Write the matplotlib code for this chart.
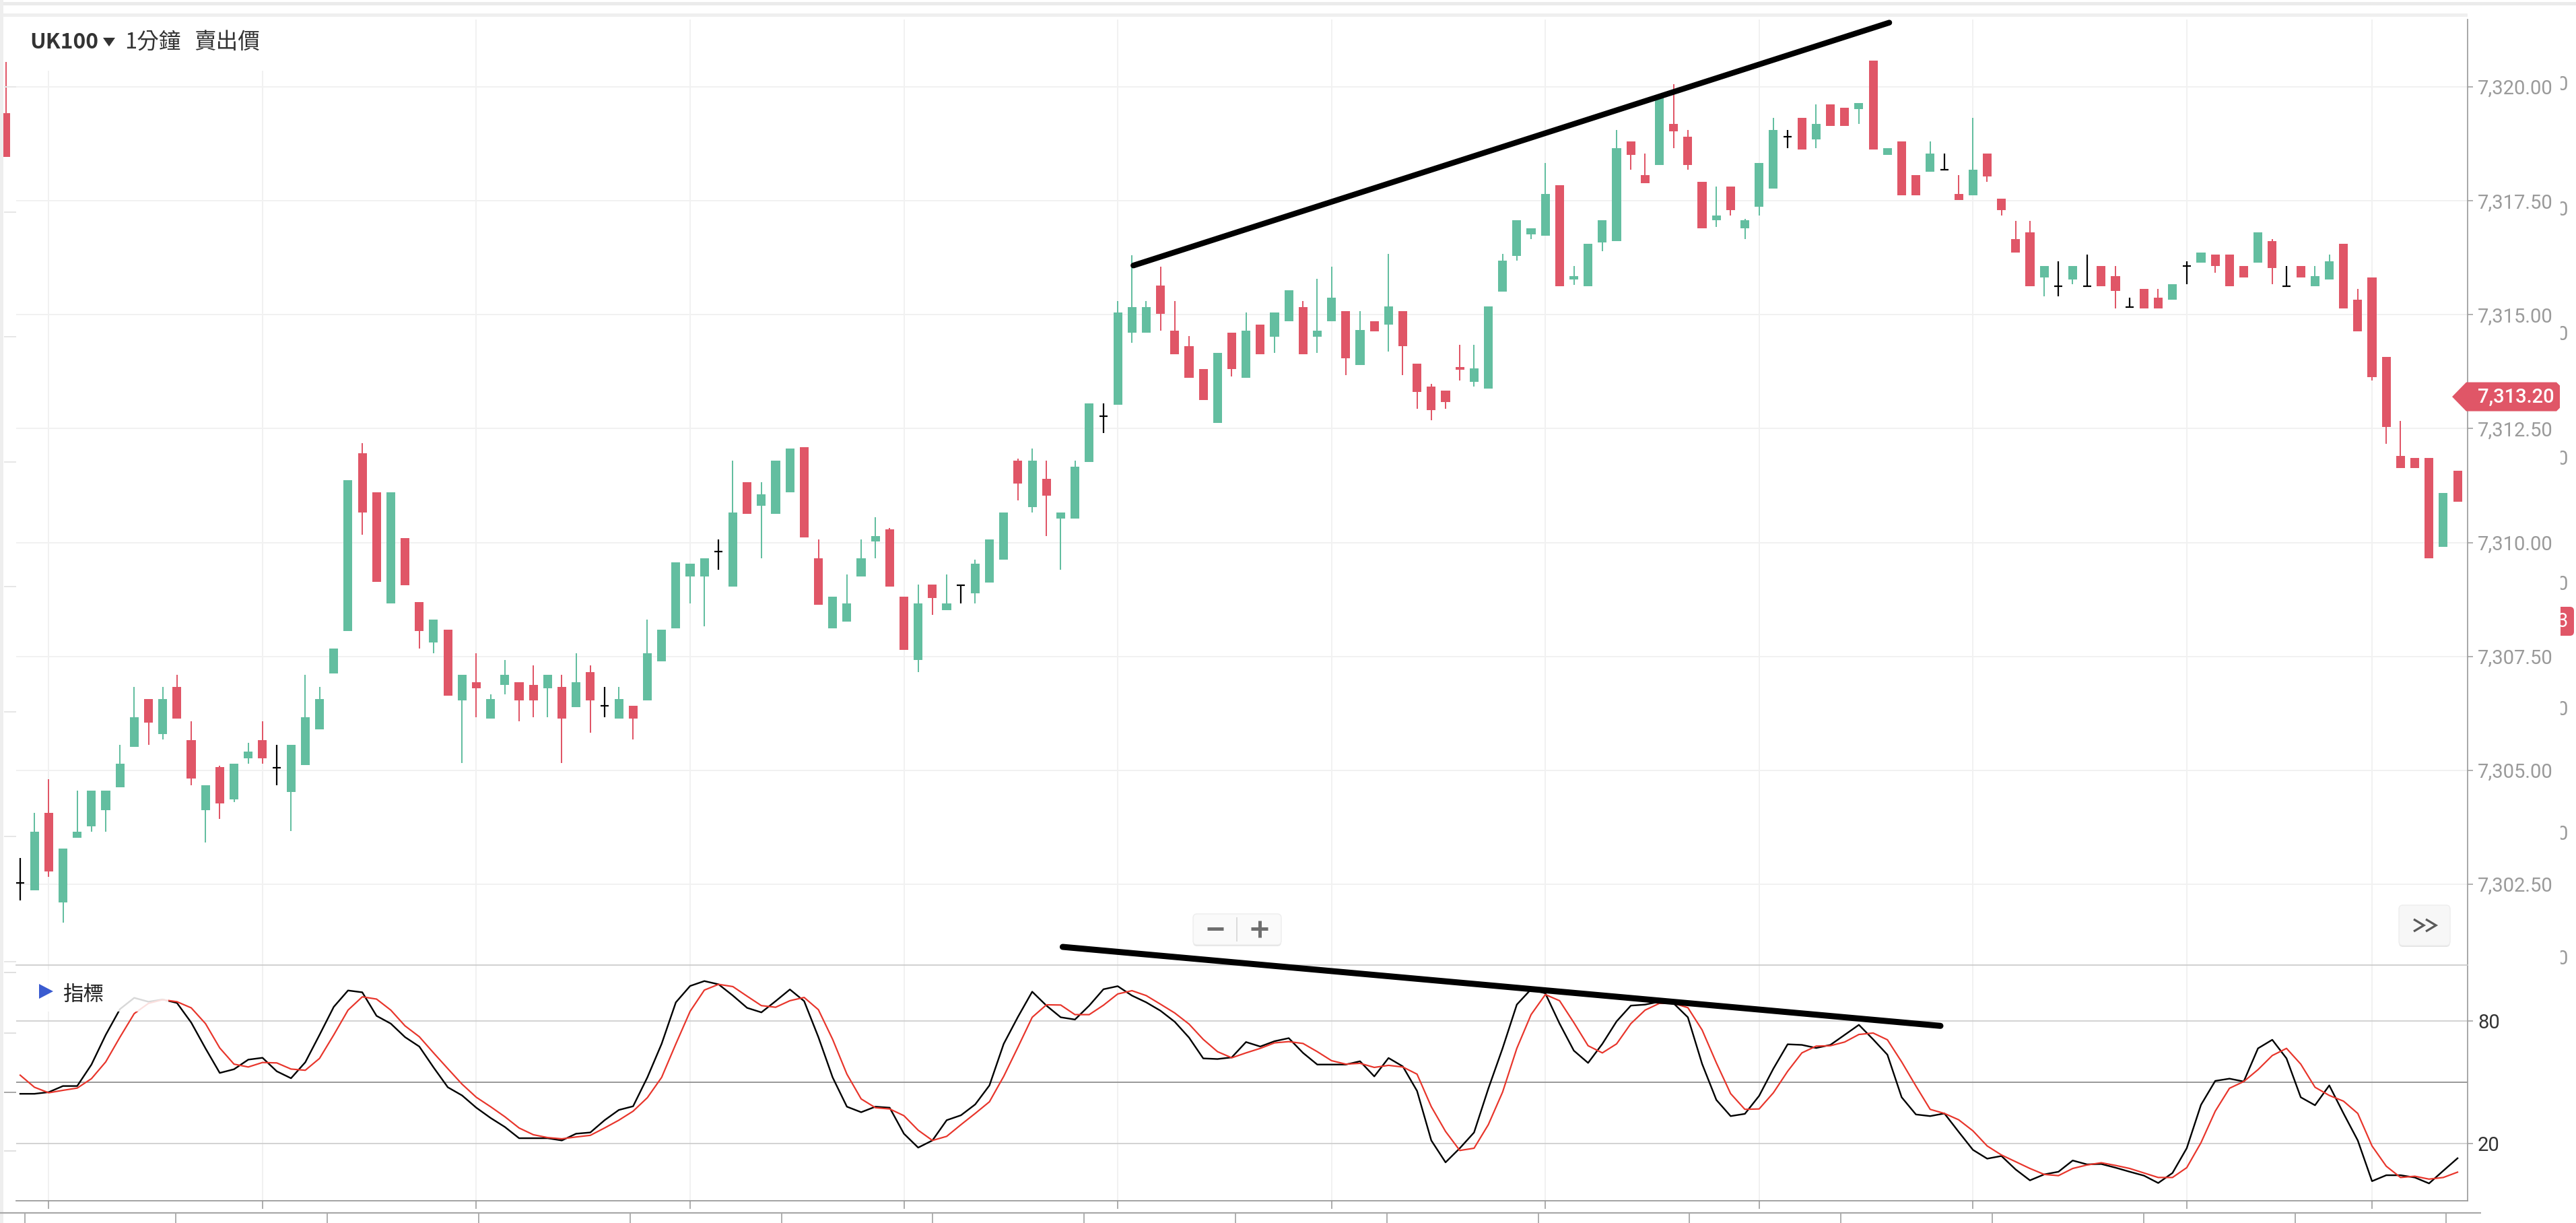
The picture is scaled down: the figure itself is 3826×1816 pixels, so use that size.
import numpy as np
import matplotlib
matplotlib.use("Agg")
import matplotlib.pyplot as plt
from matplotlib.patches import Polygon, Rectangle, FancyBboxPatch

# ---------------- data ----------------
opens = [7319.43, 7302.53, 7302.37, 7304.07, 7302.10, 7303.52, 7303.77, 7304.12, 7304.63, 7305.52,
         7306.57, 7305.79, 7306.83, 7305.67, 7304.12, 7305.07, 7304.37, 7305.26, 7305.67, 7305.06,
         7304.53, 7305.11, 7305.90, 7307.12, 7308.06, 7311.96, 7311.10, 7308.66, 7310.10, 7308.69,
         7307.80, 7308.09, 7306.54, 7306.94, 7306.13, 7306.87, 7306.94, 7306.87, 7306.80, 7306.83,
         7306.39, 7307.16, 7306.41, 7306.13, 7306.42, 7306.54, 7307.39, 7308.11, 7309.26, 7309.26,
         7309.80, 7309.04, 7311.33, 7310.81, 7310.63, 7311.10, 7312.10, 7309.66, 7308.11, 7308.26,
         7309.26, 7310.03, 7310.29, 7308.81, 7307.42, 7309.08, 7308.52, 7309.07, 7308.89, 7309.12,
         7309.63, 7311.80, 7310.78, 7311.40, 7310.52, 7310.52, 7311.77, 7312.78, 7313.02, 7314.61,
         7314.61, 7315.64, 7314.65, 7314.31, 7313.80, 7312.62, 7314.61, 7313.61, 7314.79, 7314.51,
         7314.86, 7315.16, 7314.51, 7314.86, 7315.08, 7313.90, 7314.85, 7314.78, 7315.08, 7313.93,
         7313.42, 7313.34, 7313.85, 7313.52, 7313.38, 7315.51, 7316.29, 7316.77, 7316.73, 7317.84,
         7315.77, 7315.63, 7316.58, 7316.62, 7318.81, 7318.06, 7318.29, 7319.18, 7318.91, 7317.92,
         7317.07, 7317.81, 7316.89, 7317.37, 7317.77, 7318.91, 7319.32, 7318.84, 7319.62, 7319.54,
         7319.51, 7320.58, 7318.51, 7318.81, 7318.06, 7318.14, 7318.18, 7317.65, 7317.62, 7318.54,
         7317.55, 7316.66, 7316.81, 7315.81, 7315.63, 7315.77, 7315.63, 7316.07, 7315.85, 7315.16,
         7315.56, 7315.37, 7315.33, 7316.07, 7316.14, 7316.32, 7316.32, 7316.07, 7316.14, 7316.62,
         7315.63, 7316.07, 7315.63, 7315.77, 7316.55, 7315.33, 7315.81, 7314.07, 7311.90, 7311.86,
         7311.86, 7309.91, 7311.57]
highs = [7320.55, 7303.07, 7304.07, 7304.81, 7303.29, 7304.56, 7304.56, 7304.56, 7305.56, 7306.83,
         7306.57, 7306.83, 7307.09, 7306.08, 7304.67, 7305.10, 7305.15, 7305.60, 7306.08, 7305.56,
         7305.56, 7307.09, 7306.83, 7307.68, 7311.37, 7312.18, 7311.10, 7311.10, 7310.10, 7308.69,
         7308.31, 7308.09, 7307.09, 7307.57, 7306.67, 7307.42, 7306.94, 7307.31, 7307.09, 7307.09,
         7307.57, 7307.31, 7306.83, 7306.83, 7306.42, 7308.31, 7308.09, 7309.56, 7309.54, 7309.66,
         7310.07, 7311.80, 7311.33, 7311.33, 7311.80, 7312.06, 7312.10, 7310.07, 7308.81, 7309.30,
         7310.07, 7310.55, 7310.32, 7308.81, 7309.08, 7309.08, 7309.30, 7309.07, 7309.62, 7310.07,
         7310.66, 7311.84, 7312.06, 7311.80, 7310.66, 7311.80, 7313.06, 7313.06, 7315.30, 7316.30,
         7315.30, 7316.05, 7315.30, 7314.53, 7313.80, 7314.16, 7314.61, 7315.05, 7314.79, 7315.05,
         7315.53, 7315.30, 7315.79, 7316.05, 7315.08, 7315.08, 7314.85, 7316.33, 7315.08, 7313.93,
         7313.48, 7313.34, 7314.34, 7314.34, 7315.18, 7316.33, 7317.07, 7316.89, 7318.33, 7317.84,
         7316.07, 7316.55, 7317.07, 7319.06, 7318.81, 7318.54, 7319.77, 7320.06, 7319.06, 7317.92,
         7317.81, 7317.81, 7317.10, 7318.33, 7319.32, 7319.06, 7319.32, 7319.62, 7319.62, 7319.54,
         7319.65, 7320.58, 7318.66, 7318.81, 7318.06, 7318.81, 7318.54, 7318.06, 7319.32, 7318.54,
         7317.55, 7317.06, 7317.06, 7316.07, 7316.17, 7316.07, 7316.32, 7316.07, 7316.07, 7315.37,
         7315.56, 7315.56, 7315.67, 7316.17, 7316.36, 7316.32, 7316.32, 7316.07, 7316.81, 7316.66,
         7316.07, 7316.07, 7316.07, 7316.32, 7316.55, 7315.56, 7315.81, 7314.07, 7312.67, 7311.86,
         7311.86, 7311.09, 7311.57]
lows = [7318.47, 7302.14, 7302.37, 7302.67, 7301.66, 7303.52, 7303.66, 7303.66, 7304.63, 7305.52,
        7305.56, 7305.68, 7306.13, 7304.67, 7303.41, 7303.93, 7304.30, 7305.15, 7305.15, 7304.67,
        7303.67, 7305.11, 7305.90, 7307.12, 7308.06, 7310.17, 7309.14, 7308.66, 7309.07, 7307.68,
        7307.57, 7306.64, 7305.16, 7306.16, 7306.13, 7306.67, 7306.08, 7306.16, 7306.16, 7305.16,
        7306.39, 7305.82, 7306.16, 7306.13, 7305.68, 7306.54, 7307.39, 7308.11, 7308.67, 7308.16,
        7309.41, 7309.04, 7310.63, 7309.66, 7310.63, 7311.10, 7310.11, 7308.64, 7308.11, 7308.26,
        7309.26, 7309.66, 7309.04, 7307.64, 7307.16, 7308.41, 7308.52, 7308.67, 7308.67, 7309.12,
        7309.63, 7310.93, 7310.66, 7310.14, 7309.41, 7310.52, 7311.77, 7312.40, 7313.02, 7314.38,
        7314.61, 7314.65, 7314.13, 7313.61, 7313.13, 7312.62, 7313.65, 7313.61, 7314.13, 7314.16,
        7314.86, 7314.13, 7314.16, 7314.86, 7313.67, 7313.90, 7314.64, 7314.19, 7313.67, 7312.93,
        7312.68, 7312.93, 7313.56, 7313.42, 7313.38, 7315.51, 7316.18, 7316.66, 7316.73, 7315.63,
        7315.66, 7315.63, 7316.40, 7316.62, 7318.18, 7317.88, 7318.29, 7318.66, 7318.18, 7316.89,
        7316.92, 7317.18, 7316.66, 7317.18, 7317.77, 7318.66, 7318.62, 7318.66, 7319.14, 7319.14,
        7319.18, 7318.62, 7318.51, 7317.62, 7317.62, 7318.14, 7318.18, 7317.51, 7317.62, 7317.92,
        7317.18, 7316.37, 7315.63, 7315.40, 7315.40, 7315.67, 7315.63, 7315.63, 7315.14, 7315.16,
        7315.14, 7315.14, 7315.33, 7315.67, 7316.14, 7315.92, 7315.63, 7315.81, 7316.14, 7315.67,
        7315.63, 7315.81, 7315.63, 7315.77, 7315.14, 7314.64, 7313.56, 7312.16, 7311.64, 7311.64,
        7309.65, 7309.91, 7310.90]
closes = [7318.47, 7302.53, 7303.66, 7302.78, 7303.29, 7303.66, 7304.56, 7304.56, 7305.15, 7306.16,
          7306.05, 7306.57, 7306.13, 7304.82, 7304.67, 7304.27, 7305.15, 7305.41, 7305.26, 7305.06,
          7305.56, 7306.16, 7306.57, 7307.68, 7311.37, 7310.66, 7309.14, 7311.10, 7309.07, 7308.06,
          7308.31, 7306.64, 7307.09, 7306.80, 7306.57, 7307.09, 7306.54, 7306.54, 7307.09, 7306.13,
          7306.94, 7306.54, 7306.41, 7306.57, 7306.13, 7307.57, 7308.09, 7309.56, 7309.54, 7309.66,
          7309.80, 7310.66, 7310.63, 7311.06, 7311.80, 7312.06, 7310.11, 7308.64, 7308.81, 7308.67,
          7309.66, 7310.14, 7309.04, 7307.64, 7308.67, 7308.78, 7308.67, 7309.07, 7309.54, 7310.07,
          7310.66, 7311.30, 7311.80, 7311.03, 7310.66, 7311.66, 7313.06, 7312.78, 7315.05, 7315.16,
          7315.16, 7315.02, 7314.13, 7313.61, 7313.13, 7314.16, 7313.80, 7314.65, 7314.13, 7315.05,
          7315.53, 7314.13, 7314.65, 7315.38, 7314.04, 7314.67, 7314.64, 7315.18, 7314.31, 7313.30,
          7312.90, 7313.08, 7313.79, 7313.82, 7315.18, 7316.18, 7317.07, 7316.89, 7317.65, 7315.63,
          7315.84, 7316.55, 7317.07, 7318.66, 7318.51, 7317.88, 7319.77, 7319.03, 7318.29, 7316.89,
          7317.18, 7317.29, 7317.07, 7318.33, 7319.06, 7318.91, 7318.62, 7319.18, 7319.14, 7319.14,
          7319.65, 7318.62, 7318.66, 7317.62, 7317.62, 7318.54, 7318.18, 7317.51, 7318.18, 7318.03,
          7317.29, 7316.37, 7315.63, 7316.07, 7315.63, 7316.07, 7315.63, 7315.63, 7315.52, 7315.16,
          7315.14, 7315.14, 7315.67, 7316.07, 7316.36, 7316.07, 7315.63, 7315.81, 7316.81, 7316.03,
          7315.63, 7315.81, 7315.85, 7316.17, 7315.14, 7314.64, 7313.63, 7312.53, 7311.64, 7311.64,
          7309.65, 7311.09, 7310.90]

# stochastic oscillator %K (black) and %D (red)
stoch_k = [None,
           44.4, 44.4, 45.2, 48.2, 48.2, 58.7, 73.2, 85.8, 91.3, 89.4,
           90.5, 88.8, 79.2, 66.6, 54.6, 56.4, 61.1, 62.0, 55.4, 52.0,
           59.8, 73.2, 86.9, 94.9, 94.0, 82.5, 78.7, 72.1, 67.5, 57.3,
           47.6, 43.6, 37.6, 32.6, 28.2, 22.7, 22.7, 22.7, 21.6, 24.9,
           25.5, 31.5, 36.5, 38.3, 52.4, 68.8, 89.1, 97.1, 99.5, 97.9,
           92.4, 86.4, 84.2, 89.7, 95.4, 89.7, 72.1, 52.4, 38.1, 35.4,
           38.1, 37.6, 24.9, 18.1, 21.6, 31.5, 33.9, 39.2, 48.5, 68.8,
           82.0, 94.3, 87.5, 81.8, 80.7, 87.5, 95.5, 97.0, 92.4, 89.1,
           85.0, 79.6, 71.9, 61.7, 61.4, 62.2, 69.7, 67.5, 70.1, 71.6,
           64.4, 58.7, 58.7, 58.7, 60.3, 52.9, 61.9, 57.8, 45.8, 21.6,
           10.9, 17.8, 25.5, 46.9, 66.6, 88.0, 95.5, 93.5, 78.7, 65.5,
           59.5, 68.8, 79.8, 87.5, 88.0, 89.4, 88.6, 81.8, 59.0, 41.4,
           33.5, 34.6, 43.4, 56.7, 68.6, 68.3, 66.8, 68.3, 73.2, 78.1,
           71.0, 63.5, 42.7, 34.3, 33.5, 34.8, 25.8, 17.0, 12.7, 14.0,
           7.4, 2.1, 5.0, 6.3, 11.8, 9.9, 10.1, 8.3, 6.3, 4.4,
           0.8, 5.7, 17.8, 39.0, 50.7, 51.8, 50.4, 66.6, 70.8, 61.7,
           42.7, 38.8, 48.5, 34.8, 21.6, 1.7, 4.6, 4.6, 3.5, 0.6,
           6.8, 12.9]
stoch_d = [None,
           53.5, 47.6, 44.9, 46.1, 47.2, 51.8, 60.0, 72.1, 83.6, 88.6,
           90.4, 89.4, 86.4, 78.7, 66.8, 58.9, 57.5, 59.7, 59.5, 56.5,
           55.9, 61.7, 73.2, 85.3, 91.8, 90.7, 85.3, 77.6, 72.3, 64.4,
           56.7, 49.1, 42.7, 38.1, 33.2, 27.7, 24.4, 23.0, 22.4, 23.3,
           24.1, 27.7, 31.5, 35.9, 42.5, 52.4, 68.8, 84.7, 95.1, 97.9,
           96.8, 92.1, 87.5, 86.7, 89.9, 91.5, 85.5, 71.0, 54.0, 41.9,
           37.6, 37.0, 33.7, 26.6, 21.6, 23.6, 29.3, 34.8, 40.5, 52.9,
           67.2, 81.8, 87.9, 87.8, 83.1, 83.1, 87.7, 93.2, 94.8, 92.4,
           88.2, 83.9, 78.5, 71.0, 65.0, 62.0, 64.4, 66.6, 69.3, 69.9,
           69.0, 65.0, 60.6, 58.9, 59.3, 57.3, 58.3, 57.5, 54.0, 38.1,
           26.0, 16.7, 17.8, 29.3, 45.2, 66.6, 83.1, 92.9, 89.9, 79.2,
           67.9, 64.4, 68.8, 78.7, 85.3, 88.6, 88.6, 86.5, 75.6, 59.5,
           44.5, 36.8, 37.0, 44.9, 55.4, 64.4, 67.7, 67.9, 69.7, 73.4,
           74.1, 70.8, 60.0, 48.2, 36.8, 34.8, 31.7, 26.3, 18.9, 14.5,
           11.2, 7.9, 5.0, 4.4, 7.9, 9.6, 10.7, 9.4, 7.9, 5.7,
           3.5, 3.5, 8.3, 20.5, 35.9, 47.1, 50.4, 56.2, 63.1, 66.6,
           58.9, 47.6, 43.6, 40.8, 34.8, 18.9, 9.0, 3.5, 4.1, 2.7,
           3.5, 6.1]

price_ticks = [7302.5, 7305.0, 7307.5, 7310.0, 7312.5, 7315.0, 7317.5, 7320.0]
osc_ticks = [20, 80]
osc_mid = 50
grid_idx = [3, 18, 33, 48, 63, 78, 93, 108, 123, 138, 153, 166]
last_price = 7313.20
trend_price_x = [79.1, 132.13]
trend_price_y = [7316.08, 7321.41]
trend_osc_x = [74.14, 135.72]
trend_osc_y = [116.2, 77.6]

# ---------------- layout ----------------
W, H, DPI = 3826, 1816, 100
X0, X1 = 24, 3665
Y_TOP, Y_MID, Y_BOT = 29, 1433, 1783
STEP, C0 = 21.17, 8.83
GREEN = "#63bea0"
RED = "#e05667"
DRED = "#e8352b"
CJK = ["Noto Sans CJK TC", "DejaVu Sans"]
NUM = ["Roboto", "DejaVu Sans"]
PT = 0.72  # points per pixel at 100 dpi

fig = plt.figure(figsize=(W / DPI, H / DPI), dpi=DPI)
fig.patch.set_facecolor("white")


def box(x0, y0, x1, y1):
    return [x0 / W, 1 - y1 / H, (x1 - x0) / W, (y1 - y0) / H]


ax = fig.add_axes(box(X0, Y_TOP, X1, Y_MID))
axi = fig.add_axes(box(X0, Y_MID, X1, Y_BOT))
xlim = ((X0 - C0) / STEP, (X1 - C0) / STEP)
ax.set_xlim(*xlim)
axi.set_xlim(*xlim)
ax.set_ylim(7320 - (Y_MID - 129) / 67.66, 7320 + (129 - Y_TOP) / 67.66)
axi.set_ylim(80 - (Y_BOT - 1516) / 3.038, 80 + (1516 - Y_MID) / 3.038)

# grids
for g in grid_idx:
    ax.axvline(g, color="#f1f1f1", lw=2 * PT, zorder=0)
    axi.axvline(g, color="#f1f1f1", lw=2 * PT, zorder=0)
for p in price_ticks:
    ax.axhline(p, color="#f1f1f1", lw=2 * PT, zorder=0)
for lv in osc_ticks:
    axi.axhline(lv, color="#cfcfcf", lw=1.8 * PT, zorder=1)
axi.axhline(osc_mid, color="#9a9a9a", lw=2 * PT, zorder=1)

# candles
o = np.array(opens); h = np.array(highs); l = np.array(lows); c = np.array(closes)
x = np.arange(len(o))
up = c > o
dn = c < o
dj = c == o
for mask, col in ((up, GREEN), (dn, RED)):
    ax.vlines(x[mask], l[mask], h[mask], color=col, lw=2 * PT, zorder=3, clip_on=False)
    ax.bar(x[mask], np.abs(c[mask] - o[mask]), bottom=np.minimum(o[mask], c[mask]),
           width=0.62, color=col, linewidth=0, zorder=4, clip_on=False)
ax.vlines(x[dj], l[dj], h[dj], color="black", lw=2.2 * PT, zorder=4)
ax.hlines(o[dj], x[dj] - 0.29, x[dj] + 0.29, color="black", lw=2.2 * PT, zorder=4)

ax.plot(trend_price_x, trend_price_y, color="black", lw=8.5 * PT,
        solid_capstyle="round", zorder=6, clip_on=False)

# oscillator
k = np.array([np.nan if v is None else v for v in stoch_k], dtype=float)
d = np.array([np.nan if v is None else v for v in stoch_d], dtype=float)
axi.plot(x, k, color="black", lw=2.4 * PT, zorder=3)
axi.plot(x, d, color=DRED, lw=2.2 * PT, zorder=4)
axi.plot(trend_osc_x, trend_osc_y, color="black", lw=9 * PT,
         solid_capstyle="round", zorder=6, clip_on=False)

# axes styling
for a in (ax, axi):
    for s in ("left", "top", "bottom"):
        a.spines[s].set_visible(False)
    a.spines["right"].set_color("#a0a0a0")
    a.spines["right"].set_linewidth(1.8 * PT)
    a.yaxis.tick_right()
    a.tick_params(axis="y", right=True, left=False, labelright=True, labelleft=False,
                  length=8 * PT, width=1.6 * PT, color="#a0a0a0", pad=5)
axi.spines["top"].set_visible(True)
axi.spines["top"].set_color("#cccccc")
axi.spines["top"].set_linewidth(1.8 * PT)
axi.spines["bottom"].set_visible(True)
axi.spines["bottom"].set_color("#9a9a9a")
axi.spines["bottom"].set_linewidth(1.8 * PT)

ax.set_xticks([])
ax.set_yticks(price_ticks)
ax.set_yticklabels([f"{p:,.2f}" for p in price_ticks], fontsize=21, color="#9a9a9a", family=NUM)
axi.set_yticks(osc_ticks)
axi.set_yticklabels([str(v) for v in osc_ticks], fontsize=21, color="#333333", family=NUM)
axi.set_xticks(grid_idx)
axi.set_xticklabels([])
axi.tick_params(axis="x", bottom=True, direction="out", length=12 * PT, width=1.6 * PT,
                color="#9a9a9a")

# ---------------- overlay decorations in pixel space ----------------
ov = fig.add_axes([0, 0, 1, 1])
ov.set_xlim(0, W)
ov.set_ylim(H, 0)
ov.axis("off")


def seg(xs, ys, col, px, cap="butt"):
    ov.plot(xs, ys, color=col, lw=px * PT, solid_capstyle=cap, solid_joinstyle="miter")


# header strips and left border
ov.add_patch(Rectangle((0, 3), W, 5, color="#ebebeb", lw=0))
ov.add_patch(Rectangle((0, 20), X1, 5, color="#efefef", lw=0))
ov.add_patch(Rectangle((0, 0), 5, H, color="#eeeeee", lw=0))

# left ticks of hidden axes
hidden_y = [129 + 185.5 * i for i in range(8)]
for yy in hidden_y:
    seg([6, X0], [yy, yy], "#e6e6e6", 2)
for yy, col in zip([1444, 1534, 1622, 1709], ["#e0e0e0", "#e0e0e0", "#a8a8a8", "#e0e0e0"]):
    seg([6, X0], [yy, yy], col, 2)

# secondary time axis at the bottom
seg([0, 3685], [1801, 1801], "#a8a8a8", 2.2)
for i in range(17):
    xx = 36.5 + 224.8 * i
    seg([xx, xx], [1802, 1816], "#a8a8a8", 1.8)

# title box
ov.add_patch(Rectangle((X0, Y_TOP), 376, 76, color="white", lw=0))
ov.text(44, 63, "UK100", fontsize=23, fontweight="bold", color="#333333", family=CJK,
        va="center", ha="left")
ov.add_patch(Polygon([(153, 56), (171, 56), (162, 69)], closed=True, fc="#333333", ec="none"))
ov.text(185, 63, "1分鐘", fontsize=23.5, color="#333333", family=CJK, va="center", ha="left")
ov.text(288, 63, "賣出價", fontsize=23.5, color="#333333", family=CJK, va="center", ha="left")

# indicator label
ov.add_patch(Rectangle((X0, 1440), 226, 62, color="white", alpha=0.85, lw=0))
ov.add_patch(Polygon([(58, 1461), (58, 1483), (79, 1472)], closed=True, fc="#3a5bd0", ec="none"))
ov.text(93, 1477, "指標", fontsize=22, color="#222222", family=CJK, va="center", ha="left")

# zoom buttons
ov.add_patch(FancyBboxPatch((1772, 1359), 131, 46, boxstyle="round,pad=0,rounding_size=6",
                            fc="#e4e4e4", ec="none"))
ov.add_patch(FancyBboxPatch((1772, 1357), 131, 46, boxstyle="round,pad=0,rounding_size=6",
                            fc="#fafafa", ec="#ededed", lw=1))
seg([1837, 1837], [1362, 1398], "#dcdcdc", 2)
seg([1793, 1817], [1379, 1379], "#6e6e6e", 5)
seg([1858, 1883], [1379, 1379], "#6e6e6e", 5)
seg([1870.5, 1870.5], [1367, 1392], "#6e6e6e", 5)

# scroll button
ov.add_patch(FancyBboxPatch((3563, 1346), 76, 60, boxstyle="round,pad=0,rounding_size=6",
                            fc="#e4e4e4", ec="none"))
ov.add_patch(FancyBboxPatch((3563, 1344), 76, 60, boxstyle="round,pad=0,rounding_size=6",
                            fc="#f7f7f7", ec="#ededed", lw=1))
seg([3585, 3600, 3585], [1365, 1374, 1383], "#5a5a5a", 3.2)
seg([3603, 3618, 3603], [1365, 1374, 1383], "#5a5a5a", 3.2)

# last price tag
py = H - ax.transData.transform((0, last_price))[1]
ov.add_patch(Polygon([(3642, py), (3663, py - 21.5), (3797, py - 21.5), (3802, py - 16.5),
                      (3802, py + 16.5), (3797, py + 21.5), (3663, py + 21.5)],
                     closed=True, fc=RED, ec="none"))
ov.text(3680, py + 1, f"{last_price:,.2f}", fontsize=21, fontweight="medium", color="white",
        family=NUM, va="center", ha="left")

# far-right clipped column of another axis
cax = fig.add_axes(box(3803, 0, W, H))
cax.set_xlim(3803, W)
cax.set_ylim(H, 0)
cax.axis("off")
for yy in hidden_y:
    cax.text(3814, yy - 3, "0", fontsize=21, color="#9a9a9a", family=NUM,
             va="center", ha="right", clip_on=True)
cax.add_patch(FancyBboxPatch((3780, 901), 43, 43, boxstyle="round,pad=0,rounding_size=6",
                             fc=RED, ec="none", clip_on=True))
cax.text(3814, 923, "3", fontsize=21, color="white", family=NUM, va="center", ha="right",
         clip_on=True)

fig.savefig("out.png", dpi=DPI, facecolor="white")
